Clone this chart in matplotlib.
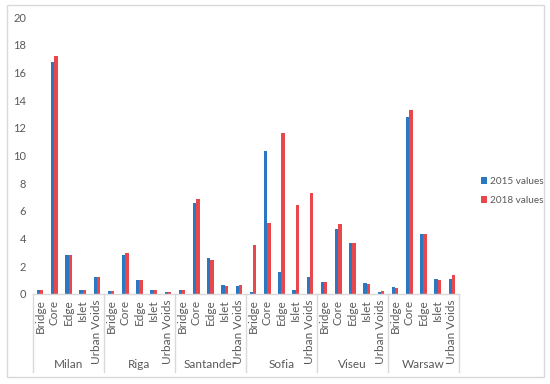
import matplotlib
matplotlib.use("Agg")
import matplotlib.pyplot as plt
import numpy as np
from matplotlib.patches import Rectangle
from matplotlib.lines import Line2D
import matplotlib.transforms as mtransforms

cities = ["Milan", "Riga", "Santander", "Sofia", "Viseu", "Warsaw"]
types = ["Bridge", "Core", "Edge", "Islet", "Urban Voids"]
values_2015 = [
    [0.26, 16.75, 2.8, 0.26, 1.22],
    [0.19, 2.8, 1.0, 0.31, 0.14],
    [0.31, 6.55, 2.59, 0.65, 0.55],
    [0.17, 10.36, 1.6, 0.29, 1.22],
    [0.89, 4.68, 3.67, 0.82, 0.12],
    [0.5, 12.78, 4.32, 1.1, 1.1],
]
values_2018 = [
    [0.26, 17.22, 2.8, 0.26, 1.25],
    [0.19, 2.97, 1.0, 0.31, 0.14],
    [0.26, 6.86, 2.47, 0.6, 0.65],
    [3.53, 5.13, 11.65, 6.4, 7.27],
    [0.89, 5.04, 3.65, 0.74, 0.19],
    [0.43, 13.26, 4.32, 1.03, 1.37],
]
series_labels = ["2015 values", "2018 values"]
yticks = [0, 2, 4, 6, 8, 10, 12, 14, 16, 18, 20]

blue = "#2a78c2"
red = "#e8474c"
gray_text = "#595959"
axis_col = "#d9d9d9"

plt.rcParams['font.family'] = ['Lato', 'DejaVu Sans']

W, H = 550, 384
fig = plt.figure(figsize=(W / 100, H / 100), dpi=100)
fig.patch.set_facecolor("white")
fig.patches.append(Rectangle((7 / W, 1 - 377 / H), (544 - 7) / W, (377 - 5) / H,
                             transform=fig.transFigure, fill=False,
                             edgecolor="#d9d9d9", linewidth=1.0))

left, right, top, bottom = 33, 459, 17, 294
ax = fig.add_axes([left / W, 1 - bottom / H, (right - left) / W, (bottom - top) / H])

n_types = len(types)
n = len(cities) * n_types
x = np.arange(n)
v15 = np.array(values_2015).ravel()
v18 = np.array(values_2018).ravel()
bw = 0.235
ax.bar(x - bw / 2, v15, width=bw, color=blue, label=series_labels[0])
ax.bar(x + bw / 2, v18, width=bw, color=red, label=series_labels[1])

ax.set_xlim(-0.5, n - 0.5)
ax.set_ylim(0, 20)
ax.set_yticks(yticks)
ax.tick_params(axis='y', length=0, labelsize=8, labelcolor=gray_text, pad=5)
for s in ["top", "right", "left"]:
    ax.spines[s].set_visible(False)
ax.spines["bottom"].set_color(axis_col)
ax.spines["bottom"].set_linewidth(1.0)

ax.set_xticks(x)
ax.set_xticklabels(types * len(cities), rotation=90, fontsize=8.5, color=gray_text,
                   va='top', ha='center')
ax.tick_params(axis='x', length=0, pad=4)

axh = bottom - top
trans = mtransforms.blended_transform_factory(ax.transData, ax.transAxes)
sep_bottom = -(372 - bottom) / axh
for i in range(len(cities) + 1):
    xs = i * n_types - 0.5
    ax.add_line(Line2D([xs, xs], [0, sep_bottom], transform=trans, color=axis_col,
                       linewidth=1.0, clip_on=False))
label_y = -(365 - bottom) / axh
for i, c in enumerate(cities):
    ax.text(i * n_types + (n_types - 1) / 2, label_y, c, transform=trans,
            ha='center', va='center', fontsize=8.5, color=gray_text)

fig.legend(loc='center left', bbox_to_anchor=(472 / W, 1 - 191 / H), frameon=False,
           handlelength=0.6, handleheight=0.6, handletextpad=0.3, labelspacing=1.0,
           fontsize=7.2, labelcolor=gray_text)

fig.savefig("out.png", dpi=100, facecolor="white")
